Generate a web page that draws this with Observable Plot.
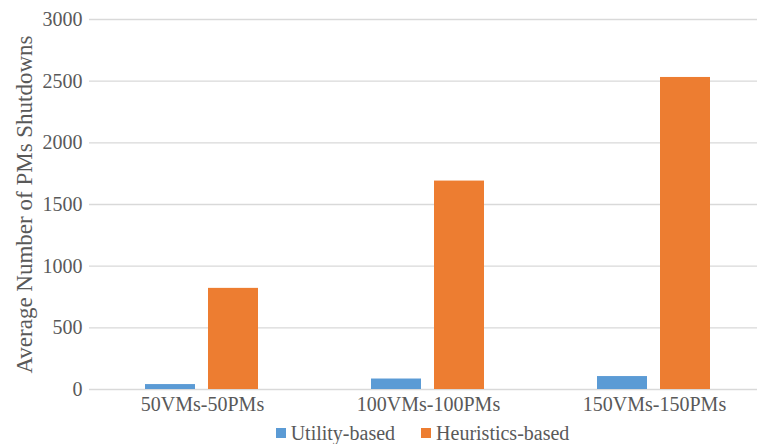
<!DOCTYPE html>
<html>
<head>
<meta charset="utf-8">
<script src="https://cdn.jsdelivr.net/npm/d3@7"></script>
<script src="https://cdn.jsdelivr.net/npm/@observablehq/plot@0.6"></script>
<style>
  html, body { margin: 0; padding: 0; background: #fff; overflow: hidden; }
  #wrap { width: 757px; height: 444px; position: relative; font-family: "Liberation Serif", "Times New Roman", serif; color: #595959; }
  #legend { position: absolute; top: 422px; left: 0; width: 757px; padding-left: 88px; box-sizing: border-box;
            display: flex; justify-content: center; align-items: center; font-size: 20px; line-height: 22px; }
  .item { display: flex; align-items: center; margin: 0 13px; }
  .sw { width: 10px; height: 10px; margin-right: 5px; }
</style>
</head>
<body>
<div id="wrap">
  <div id="chart"></div>
  <div id="legend"></div>
</div>
<script>
const categories = ["50VMs-50PMs", "100VMs-100PMs", "150VMs-150PMs"];
const series = ["Utility-based", "Heuristics-based"];
const utilityValues = [40, 85, 105];
const heuristicsValues = [820, 1690, 2530];
const yTicks = [0, 500, 1000, 1500, 2000, 2500, 3000];
const colors = ["#5B9BD5", "#ED7D31"];

const data = [];
categories.forEach((c, i) => {
  data.push({category: c, series: series[0], value: utilityValues[i]});
  data.push({category: c, series: series[1], value: heuristicsValues[i]});
});

const chart = Plot.plot({
  width: 757,
  height: 420,
  marginTop: 19,
  marginBottom: 31,
  marginLeft: 89,
  marginRight: -10,
  style: {fontFamily: "'Liberation Serif', 'Times New Roman', serif", fontSize: "20px", color: "#595959", background: "#fff"},
  fx: {domain: categories, padding: 0},
  x: {domain: series, paddingInner: 0.2, paddingOuter: 0.87, axis: null},
  y: {domain: [0, 3000]},
  color: {domain: series, range: colors},
  marks: [
    Plot.ruleY(yTicks, {stroke: "#d9d9d9", strokeWidth: 1.3}),
    Plot.barY(data, {fx: "category", x: "series", y: "value", fill: "series"}),
    Plot.axisY(yTicks, {tickSize: 0, tickPadding: 7, tickFormat: d => String(d), label: null}),
    Plot.axisY({ticks: [], label: "Average Number of PMs Shutdowns", labelAnchor: "center", labelArrow: "none", labelOffset: 74, fontSize: 23}),
    Plot.axisFx({anchor: "bottom", tickSize: 0, tickPadding: 7, label: null})
  ]
});
document.getElementById("chart").appendChild(chart);

const legend = document.getElementById("legend");
series.forEach((s, i) => {
  const item = document.createElement("div");
  item.className = "item";
  const sw = document.createElement("span");
  sw.className = "sw";
  sw.style.background = colors[i];
  const t = document.createElement("span");
  t.textContent = s;
  item.appendChild(sw);
  item.appendChild(t);
  legend.appendChild(item);
});
</script>
</body>
</html>
